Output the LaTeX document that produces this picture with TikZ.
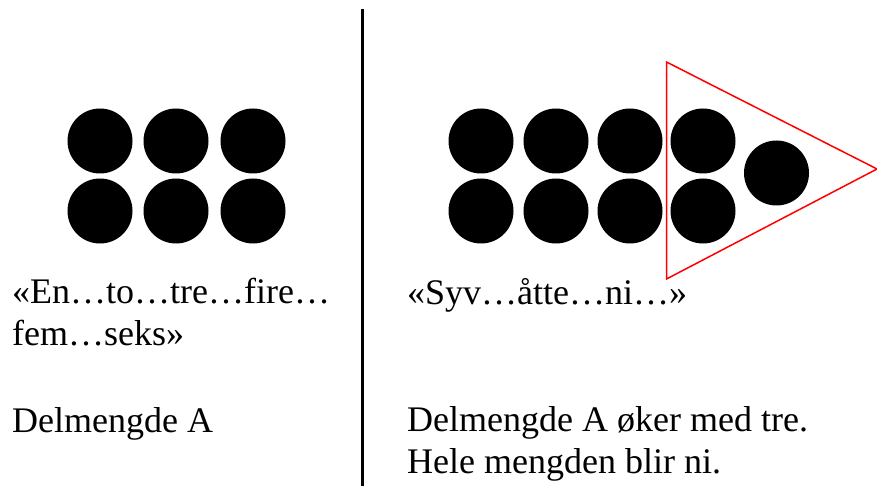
\documentclass[tikz,border=0pt]{standalone}
\usepackage{fontspec}
\setmainfont{Liberation Serif}
\usetikzlibrary{positioning}

\begin{document}
\begin{tikzpicture}[x=1pt,y=-1pt,
  dot/.style={circle,fill=black,inner sep=0pt,minimum size=65pt},
  txt/.style={anchor=base west,align=left,inner sep=0pt,
              font=\fontsize{36}{41.4}\selectfont},
  tri/.style={draw=red,line width=1.5pt,line join=miter},
  divider/.style={line width=3pt}
]
  \useasboundingbox (0,0) rectangle (877,486);
  % left set: six dots
  \foreach \c/\x in {1/100,2/176,3/253}{
    \node[dot](la\c) at (\x,141) {};
    \node[dot](lb\c) at (\x,211) {};
  }
  % multi-line text sits on its last baseline
  \node[txt](lcount) at (12,345) {«En…to…tre…fire…\\fem…seks»};
  \node[txt](lname)  at (12,432) {Delmengde A};
  % divider
  \draw[divider] (362,9) -- (362,486);
  % right set: eight dots plus one
  \foreach \c/\x in {1/481,2/556,3/630,4/703}{
    \node[dot](ra\c) at (\x,141) {};
    \node[dot](rb\c) at (\x,211) {};
  }
  \node[dot](rx) at (776.5,173) {};
  \draw[tri] (666.5,62) -- (877,169) -- (666.5,279) -- cycle;
  \node[txt](rcount) at (407,304) {«Syv…åtte…ni…»};
  \node[txt](rname)  at (407,473) {Delmengde A øker med tre.\\Hele mengden blir ni.};
\end{tikzpicture}
\end{document}
